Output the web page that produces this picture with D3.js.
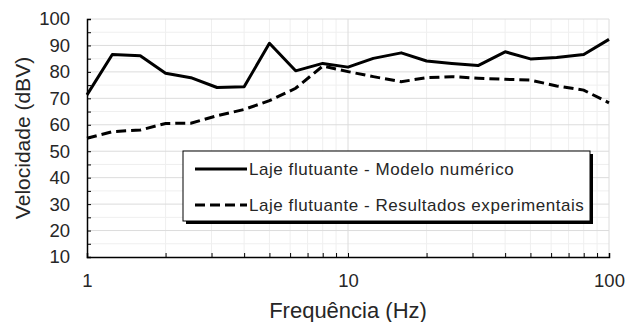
<!DOCTYPE html>
<html>
<head>
<meta charset="utf-8">
<script src="https://cdn.jsdelivr.net/npm/d3@7/dist/d3.min.js"></script>
<style>
  body { margin: 0; background: #fff; }
  text { font-family: "Liberation Sans", Arial, sans-serif; fill: #262626; }
</style>
</head>
<body>
<div id="chart"></div>
<script>
// 1/3 octave frequencies (Hz)
const frequencies = [1, 1.25, 1.6, 2, 2.5, 3.15, 4, 5, 6.3, 8, 10, 12.5, 16, 20, 25, 31.5, 40, 50, 63, 80, 100];
// Laje flutuante - Modelo numérico
const modeloNumerico = [71.3, 86.6, 86.1, 79.5, 77.8, 74.1, 74.4, 90.8, 80.4, 83.2, 81.8, 85.1, 87.2, 84.1, 83.2, 82.4, 87.6, 84.9, 85.4, 86.6, 92.3];
// Laje flutuante - Resultados experimentais
const resultadosExperimentais = [54.9, 57.4, 58.0, 60.5, 60.6, 63.4, 65.8, 69.1, 73.8, 82.2, 80.1, 78.2, 76.3, 77.8, 78.2, 77.6, 77.2, 76.9, 74.7, 73.1, 68.3];

const xTickLabels = [1, 10, 100];
const yTickLabels = [10, 20, 30, 40, 50, 60, 70, 80, 90, 100];
const legendLabels = ['Laje flutuante - Modelo numérico', 'Laje flutuante - Resultados experimentais'];

const W = 625, H = 322;
const margin = { top: 19, right: 16, bottom: 65, left: 87 };
const width = W - margin.left - margin.right;
const height = H - margin.top - margin.bottom;

const svg = d3.select('#chart').append('svg')
  .attr('width', W)
  .attr('height', H);

const g = svg.append('g')
  .attr('transform', `translate(${margin.left},${margin.top})`);

const x = d3.scaleLog().domain([1, 100]).range([0, width]);
const y = d3.scaleLinear().domain([10, 100]).range([height, 0]);

// minor log ticks 2..9, 20..90
const minorX = [];
[1, 10].forEach(d => { for (let k = 2; k <= 9; k++) minorX.push(d * k); });
const halfY = d3.range(15, 100, 10);

// grid
g.append('g').selectAll('line').data(halfY).join('line')
  .attr('x1', 0).attr('x2', width)
  .attr('y1', d => y(d)).attr('y2', d => y(d))
  .attr('stroke', '#efefef').attr('stroke-width', 1);
g.append('g').selectAll('line').data(minorX).join('line')
  .attr('x1', d => x(d)).attr('x2', d => x(d))
  .attr('y1', 0).attr('y2', height)
  .attr('stroke', '#efefef').attr('stroke-width', 1);
g.append('g').selectAll('line').data(yTickLabels.slice(1)).join('line')
  .attr('x1', 0).attr('x2', width)
  .attr('y1', d => y(d)).attr('y2', d => y(d))
  .attr('stroke', '#dcdcdc').attr('stroke-width', 1);
g.append('g').selectAll('line').data(xTickLabels.slice(1)).join('line')
  .attr('x1', d => x(d)).attr('x2', d => x(d))
  .attr('y1', 0).attr('y2', height)
  .attr('stroke', '#dcdcdc').attr('stroke-width', 1);

// axes
const yAxis = g.append('g')
  .call(d3.axisLeft(y).tickValues(d3.range(10, 101, 5)).tickSize(-4).tickPadding(17)
    .tickFormat(d => yTickLabels.includes(d) ? d : ''));
yAxis.select('.domain').attr('stroke', '#000').attr('stroke-width', 1.5);
yAxis.selectAll('.tick line').attr('stroke', '#000');
yAxis.selectAll('text').style('font-size', '18.5px').attr('fill', '#262626');

const xAxis = g.append('g')
  .attr('transform', `translate(0,${height})`)
  .call(d3.axisBottom(x).tickValues([1].concat(minorX.slice(0, 8), [10], minorX.slice(8), [100]))
    .tickSize(-4).tickPadding(17)
    .tickFormat(d => xTickLabels.includes(d) ? d : ''));
xAxis.select('.domain').attr('stroke', '#000').attr('stroke-width', 1.5);
xAxis.selectAll('.tick line').attr('stroke', '#000');
xAxis.selectAll('text').style('font-size', '18.5px').attr('fill', '#262626');

// series
const line = d3.line()
  .x((d, i) => x(frequencies[i]))
  .y(d => y(d));

g.append('path')
  .datum(resultadosExperimentais)
  .attr('fill', 'none')
  .attr('stroke', '#000')
  .attr('stroke-width', 3)
  .attr('stroke-dasharray', '10,5')
  .attr('d', line);

g.append('path')
  .datum(modeloNumerico)
  .attr('fill', 'none')
  .attr('stroke', '#000')
  .attr('stroke-width', 3)
  .attr('stroke-linejoin', 'round')
  .attr('d', line);

// axis titles
svg.append('text')
  .attr('x', margin.left + width / 2)
  .attr('y', 318)
  .attr('text-anchor', 'middle')
  .style('font-size', '22px')
  .text('Frequência (Hz)');

svg.append('text')
  .attr('transform', `translate(30,${margin.top + height / 2}) rotate(-90)`)
  .attr('text-anchor', 'middle')
  .style('font-size', '21px')
  .text('Velocidade (dBV)');

// legend
const lg = svg.append('g').attr('transform', 'translate(183,151)');
lg.append('rect')
  .attr('x', 3).attr('y', 3).attr('width', 407).attr('height', 70)
  .attr('fill', '#000');
lg.append('rect')
  .attr('x', 0).attr('y', 0).attr('width', 407).attr('height', 70)
  .attr('fill', '#fff').attr('stroke', '#000').attr('stroke-width', 1);

const rows = lg.selectAll('g.row').data(legendLabels).join('g')
  .attr('transform', (d, i) => `translate(0,${18 + i * 36})`);
rows.append('line')
  .attr('x1', 12).attr('x2', 64)
  .attr('y1', 0).attr('y2', 0)
  .attr('stroke', '#000').attr('stroke-width', 3)
  .attr('stroke-dasharray', (d, i) => i === 1 ? '10,5' : null);
rows.append('text')
  .attr('x', 66).attr('y', 6)
  .style('font-size', '17px')
  .style('letter-spacing', '0.55px')
  .text(d => d);
</script>
</body>
</html>
